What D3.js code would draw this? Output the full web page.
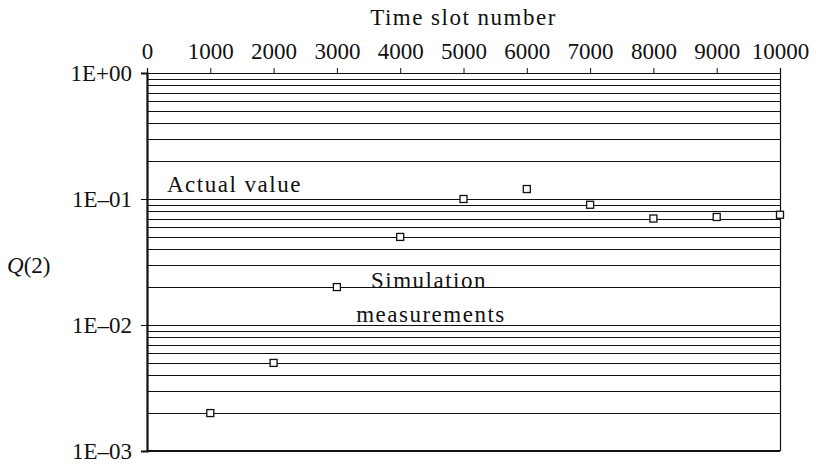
<!DOCTYPE html>
<html>
<head>
<meta charset="utf-8">
<script src="https://cdn.jsdelivr.net/npm/d3@7"></script>
<style>
  body { margin: 0; background: #fff; }
  svg text { font-family: "Liberation Serif", "DejaVu Serif", serif; fill: #111; }
  .word { letter-spacing: 1.5px; }
</style>
</head>
<body>
<div id="chart"></div>
<script>
// simulation measurements of Q(2) against time slot
let slots = [1000, 2000, 3000, 4000, 5000, 6000, 7000, 8000, 9000, 10000];
let q2 = [0.002, 0.005, 0.02, 0.05, 0.1, 0.12, 0.09, 0.07, 0.072, 0.075];
let xTicks = [0, 1000, 2000, 3000, 4000, 5000, 6000, 7000, 8000, 9000, 10000];
let yTicks = [1, 0.1, 0.01, 0.001];
let yTickLabels = ["1E+00", "1E\u201301", "1E\u201302", "1E\u201303"];

let margin = { top: 73, right: 36, bottom: 15, left: 147 },
    width = 816 - margin.left - margin.right,
    height = 466 - margin.top - margin.bottom;

let svg = d3.select("#chart").append("svg")
    .attr("width", 816).attr("height", 466)
  .append("g")
    .attr("transform", "translate(" + margin.left + "," + margin.top + ")");

let x = d3.scaleLinear().domain([0, 10000]).range([0, width]);
let y = d3.scaleLog().domain([0.001, 1]).range([height, 0]);

// horizontal grid on every minor log value
let gridVals = y.ticks().filter(v => v < 1);
gridVals.push(1);
svg.append("g").selectAll("line").data(gridVals).enter().append("line")
    .attr("x1", 0).attr("x2", width)
    .attr("y1", d => Math.round(y(d)) + 0.5).attr("y2", d => Math.round(y(d)) + 0.5)
    .attr("stroke", "#111").attr("stroke-width", 1.1);

// right border
svg.append("line").attr("x1", width + 0.5).attr("x2", width + 0.5)
    .attr("y1", 0).attr("y2", height).attr("stroke", "#111").attr("stroke-width", 1.2);

// top axis
let xAxis = svg.append("g")
    .call(d3.axisTop(x).tickValues(xTicks).tickFormat(d3.format("d")).tickSize(5).tickPadding(9));
xAxis.select(".domain").attr("stroke", "#111").attr("stroke-width", 1.2);
xAxis.selectAll(".tick line").attr("stroke", "#111");
xAxis.selectAll("text").style("font-size", "23px").attr("fill", "#111");

// left axis
let yAxis = svg.append("g")
    .call(d3.axisLeft(y).tickValues(yTicks).tickFormat((d, i) => yTickLabels[i]).tickSize(6).tickPadding(9));
yAxis.select(".domain").attr("stroke", "#111").attr("stroke-width", 2.2);
yAxis.selectAll(".tick line").attr("stroke", "#111");
yAxis.selectAll("text").style("font-size", "23px").attr("fill", "#111");

// bottom line
svg.append("line").attr("x1", 0).attr("x2", width)
    .attr("y1", height).attr("y2", height).attr("stroke", "#111").attr("stroke-width", 2);

// markers
svg.append("g").selectAll("rect").data(slots).enter().append("rect")
    .attr("x", (d) => x(d) - 3.5)
    .attr("y", (d, i) => y(q2[i]) - 3.5)
    .attr("width", 7).attr("height", 7)
    .attr("fill", "#fff").attr("stroke", "#111").attr("stroke-width", 1.3);

// titles and notes
svg.append("text").attr("class", "word").attr("x", width / 2).attr("y", -48)
    .attr("text-anchor", "middle").style("font-size", "23px").text("Time slot number");

let ql = svg.append("text").attr("x", -140).attr("y", 200).style("font-size", "23px");
ql.append("tspan").style("font-style", "italic").text("Q");
ql.append("tspan").text("(2)");

svg.append("text").attr("class", "word").attr("x", 20).attr("y", 119).style("font-size", "23px").text("Actual value");
svg.append("text").attr("class", "word").attr("x", 282).attr("y", 215).attr("text-anchor", "middle")
    .style("font-size", "23px").text("Simulation");
svg.append("text").attr("class", "word").attr("x", 284).attr("y", 249).attr("text-anchor", "middle")
    .style("font-size", "23px").text("measurements");
</script>
</body>
</html>
